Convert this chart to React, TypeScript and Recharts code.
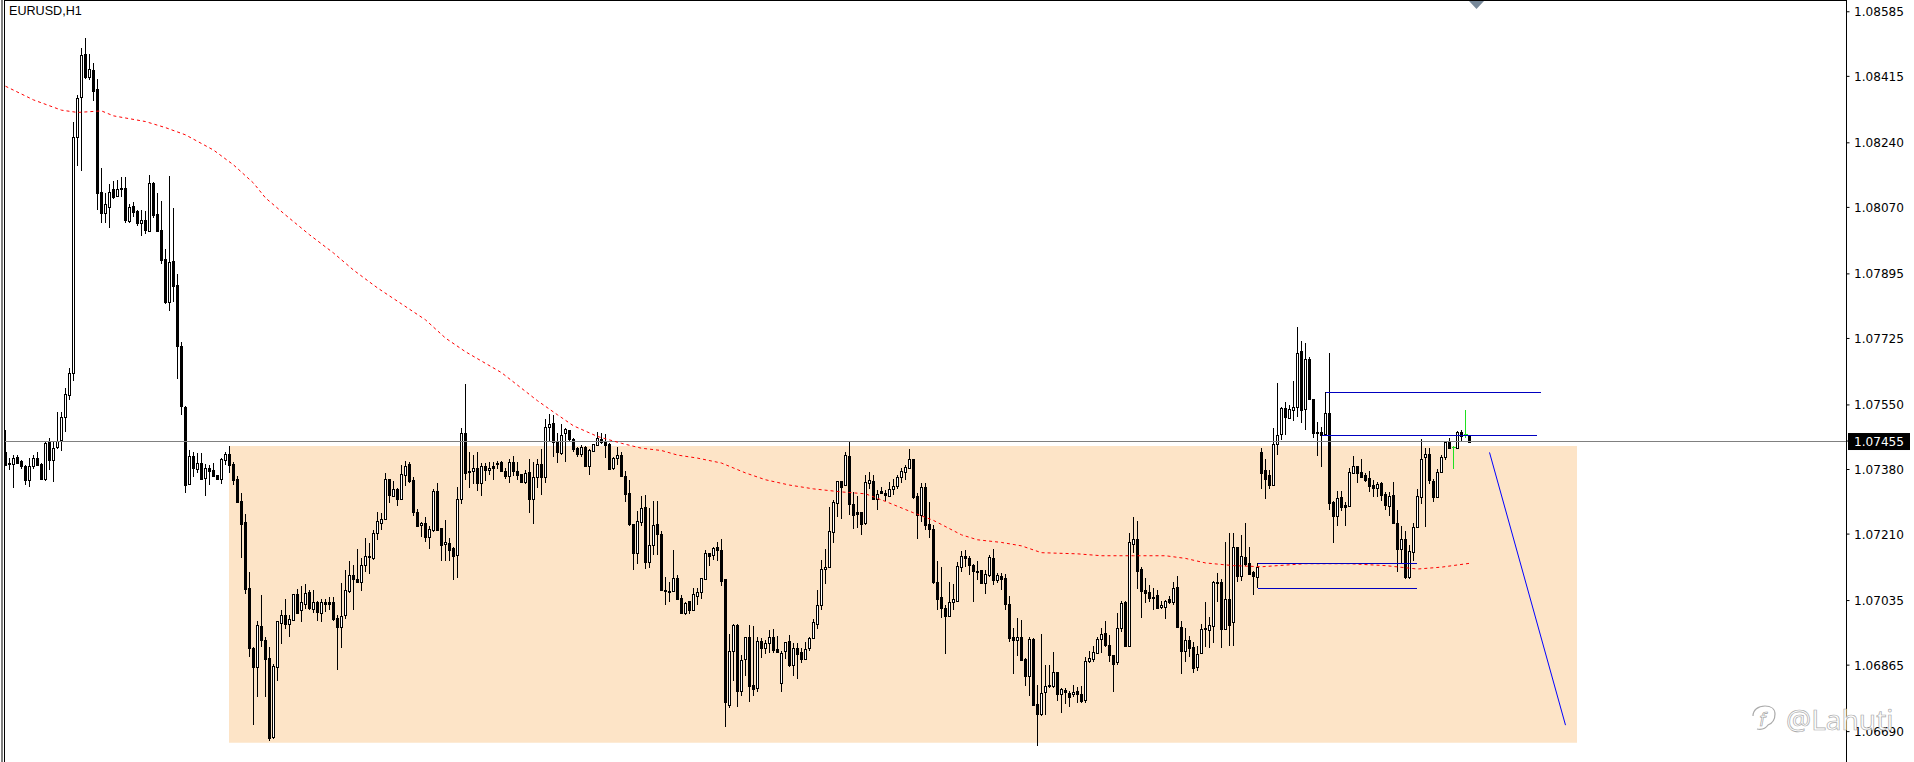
// App.tsx - EURUSD H1 candles with zone, levels and moving average
import React from "react";
import { ComposedChart, Bar, Line, XAxis, YAxis, ReferenceArea, ReferenceLine } from "recharts";

// all prices in points (1e-5)
const opens = [
  107425,107396,107394,107412,107402,107390,107352,107390,107410,107395,
  107354,107455,107404,107438,107457,107519,107577,107633,108256,108360,
  108473,108414,108431,108381,108110,108056,108072,108118,108100,108120,
  108120,108035,108073,108061,108030,108037,108009,108135,108052,108011,
  107934,107822,107928,107865,107705,107545,107341,107415,107382,107397,
  107357,107383,107378,107365,107354,107404,107421,107395,107354,107296,
  107241,107067,106909,106861,106967,106930,106883,106677,106861,106977,
  106996,106972,106984,107052,107009,107027,107057,107014,107031,107003,
  107031,107031,107031,106988,106966,106998,107060,107101,107091,107085,
  107128,107152,107148,107214,107240,107251,107354,107311,107330,107303,
  107366,107394,107352,107268,107233,107238,107203,107221,107323,107225,
  107183,107186,107174,107154,107302,107476,107376,107377,107383,107344,
  107388,107380,107389,107398,107400,107376,107364,107399,107376,107367,
  107347,107373,107302,107359,107394,107361,107493,107502,107452,107424,
  107475,107483,107460,107436,107422,107438,107388,107430,107445,107459,
  107455,107446,107384,107409,107418,107363,107317,107236,107159,107243,
  107280,107137,107180,107236,107209,107062,107061,107061,107094,107041,
  107001,107033,107010,107048,107057,107093,107159,107154,107175,107168,
  107091,106759,106901,106971,106798,106880,106938,106812,106806,106928,
  106911,106923,106938,106907,106819,106901,106928,106865,106909,106899,
  106881,106909,106937,106973,107022,107117,107123,107216,107291,107349,
  107338,107416,107289,107268,107268,107238,107345,107350,107303,107323,
  107319,107310,107330,107337,107359,107374,107385,107407,107309,107259,
  107333,107236,107223,107083,107044,107015,106995,107032,107034,107124,
  107152,107146,107129,107114,107115,107080,107101,107147,107088,107099,
  107094,107025,106938,106930,106938,106880,106837,106934,106763,106737,
  106795,106809,106811,106846,106790,106800,106791,106788,106796,106788,
  106772,106877,106882,106898,106933,106949,106917,106891,106872,106964,
  107031,106916,107185,107196,107117,107062,107058,107045,107049,107017,
  107019,107038,107031,107070,106966,106901,106930,106912,106859,106896,
  106959,106957,106969,107084,107083,106959,107038,106978,107175,107099,
  107149,107133,107110,107098,107425,107378,107365,107339,107446,107474,
  107541,107516,107537,107545,107691,107540,107672,107565,107480,107480,
  107473,107530,107294,107258,107307,107286,107284,107372,107388,107373,
  107365,107357,107339,107332,107345,107315,107285,107312,107238,107172,
  107196,107098,107164,107229,107308,107414,107422,107351,107307,107373,
  107412,107452,107438,107436,107478,107472,107469,
];

const highs = [
  107484,107410,107418,107418,107405,107392,107410,107418,107425,107397,
  107452,107462,107454,107531,107531,107594,107647,108294,108366,108489,
  108515,108473,108449,108407,108173,108107,108131,108139,108141,108149,
  108149,108078,108084,108063,108063,108061,108155,108137,108107,108086,
  107961,108153,108068,107895,107716,107547,107432,107425,107423,107423,
  107394,107392,107398,107365,107411,107427,107441,107401,107364,107317,
  107262,107109,106912,106981,107049,106938,106914,106867,106981,107010,
  107038,106997,107052,107065,107073,107079,107063,107062,107034,107040,
  107040,107045,107045,106997,107080,107116,107138,107129,107171,107147,
  107199,107186,107221,107268,107265,107370,107355,107350,107332,107392,
  107402,107401,107359,107275,107243,107254,107231,107329,107344,107225,
  107247,107199,107177,107333,107488,107605,107425,107418,107425,107398,
  107396,107401,107401,107402,107402,107384,107407,107416,107401,107367,
  107379,107407,107400,107407,107433,107513,107526,107523,107475,107500,
  107488,107484,107462,107438,107445,107442,107433,107446,107478,107475,
  107473,107449,107414,107439,107425,107376,107352,107236,107271,107310,
  107313,107278,107297,107296,107218,107097,107085,107168,107102,107049,
  107031,107033,107068,107069,107095,107167,107159,107176,107188,107196,
  107093,106947,106972,106973,106891,106940,106971,106968,106938,106936,
  106931,106958,106960,106942,106901,106927,106944,106923,106923,106911,
  106927,106938,106987,107063,107142,107171,107282,107300,107350,107350,
  107426,107455,107322,107309,107268,107366,107373,107365,107326,107333,
  107326,107346,107354,107365,107383,107392,107434,107408,107319,107344,
  107345,107295,107234,107138,107124,107023,107084,107079,107136,107166,
  107168,107153,107131,107139,107116,107116,107156,107170,107107,107107,
  107105,107047,106962,106988,106984,106883,106938,106937,106813,106947,
  106866,106866,106899,106846,106804,106804,106798,106813,106807,106811,
  106887,106903,106916,106938,106962,106981,106944,106892,107002,107035,
  107033,107212,107254,107245,107123,107094,107075,107067,107063,107033,
  107037,107047,107083,107100,106982,106963,106942,106927,106915,106973,
  107032,106993,107086,107107,107093,107188,107212,107212,107177,107207,
  107238,107175,107114,107133,107436,107407,107379,107488,107607,107544,
  107557,107550,107613,107754,107717,107712,107675,107565,107506,107493,
  107583,107686,107297,107324,107324,107295,107383,107415,107390,107407,
  107370,107376,107352,107348,107347,107322,107322,107348,107273,107231,
  107219,107181,107238,107328,107459,107436,107436,107356,107382,107418,
  107455,107462,107442,107481,107484,107536,107471,
];

const lows = [
  107390,107379,107332,107395,107382,107338,107335,107382,107390,107353,
  107351,107379,107346,107434,107430,107479,107563,107612,108179,108167,
  108407,108405,108351,108063,108028,108030,108017,108091,108097,108097,
  108030,108028,108046,108021,107996,107999,108009,108041,108009,107921,
  107816,107796,107822,107619,107524,107319,107341,107360,107372,107353,
  107311,107340,107360,107353,107342,107392,107372,107339,107291,107147,
  107051,106887,106708,106782,106914,106782,106666,106670,106824,106921,
  106959,106938,106980,107000,106979,107013,107009,107002,106982,106979,
  107005,107010,106982,106853,106910,106987,107056,107010,107080,107061,
  107110,107105,107142,107194,107221,107247,107293,107310,107284,107302,
  107337,107345,107258,107231,107202,107190,107172,107216,107219,107139,
  107140,107140,107090,107095,107289,107352,107331,107341,107323,107310,
  107350,107366,107352,107381,107375,107356,107344,107363,107352,107344,
  107342,107266,107237,107332,107313,107344,107453,107414,107398,107418,
  107401,107453,107427,107414,107414,107387,107366,107427,107444,107447,
  107409,107379,107379,107392,107359,107295,107231,107116,107131,107231,
  107118,107122,107155,107155,107060,107024,107030,107059,107037,107002,
  106998,107000,107009,107023,107039,107092,107127,107142,107139,107074,
  106701,106751,106823,106756,106784,106837,106768,106784,106795,106885,
  106895,106896,106896,106896,106793,106882,106861,106837,106828,106870,
  106879,106901,106936,106961,107010,107079,107122,107186,107256,107250,
  107337,107260,107223,107225,107208,107234,107330,107302,107273,107316,
  107297,107309,107313,107330,107345,107352,107383,107302,107197,107243,
  107221,107201,107079,107010,106990,106895,106994,107010,107031,107110,
  107124,107101,107031,107089,107079,107052,107098,107076,107082,107063,
  107011,106927,106842,106889,106877,106810,106784,106760,106651,106731,
  106734,106804,106804,106771,106740,106763,106756,106780,106766,106766,
  106766,106870,106874,106896,106896,106914,106872,106795,106866,106953,
  106915,106915,107159,107065,106989,107028,107031,107009,107014,107014,
  106987,107026,107023,106964,106842,106873,106887,106845,106850,106894,
  106914,106909,106924,107032,106909,106957,106916,106916,107085,107086,
  107126,107102,107050,107067,107329,107302,107330,107337,107419,107457,
  107471,107514,107507,107519,107503,107484,107563,107464,107415,107387,
  107473,107273,107187,107231,107272,107231,107282,107372,107345,107359,
  107348,107320,107308,107308,107297,107273,107258,107240,107111,107133,
  107093,107091,107139,107229,107289,107229,107343,107295,107306,107372,
  107405,107436,107381,107435,107456,107464,107453,
];

const closes = [
  107392,107394,107410,107398,107390,107352,107389,107410,107393,107355,
  107449,107404,107436,107456,107518,107578,107633,108256,108357,108470,
  108412,108434,108377,108109,108056,108078,108110,108098,108118,108118,
  108037,108070,108059,108030,108037,108011,108134,108050,108009,107932,
  107821,107926,107863,107706,107546,107340,107415,107385,107397,107355,
  107383,107375,107363,107354,107407,107421,107393,107353,107295,107237,
  107066,106909,106861,106970,106930,106882,106674,106863,106981,106996,
  106972,106986,107052,107003,107031,107054,107016,107031,107006,107031,
  107027,107026,106987,106966,106995,107062,107101,107093,107084,107128,
  107152,107151,107212,107244,107249,107354,107314,107330,107302,107368,
  107389,107350,107269,107232,107238,107203,107223,107323,107221,107180,
  107188,107169,107153,107302,107475,107372,107374,107383,107344,107388,
  107379,107385,107385,107396,107377,107363,107399,107376,107366,107347,
  107370,107303,107359,107394,107360,107491,107499,107452,107425,107472,
  107486,107460,107434,107422,107438,107388,107431,107446,107462,107452,
  107445,107381,107409,107417,107363,107316,107237,107159,107244,107278,
  107137,107180,107233,107209,107062,107060,107059,107094,107039,107003,
  107028,107010,107052,107057,107094,107159,107153,107174,107168,107087,
  106769,106902,106971,106797,106878,106938,106811,106803,106928,106911,
  106923,106938,106905,106900,106896,106927,106865,106909,106895,106881,
  106907,106936,106978,107023,107117,107124,107217,107294,107349,107334,
  107417,107290,107261,107264,107237,107346,107352,107303,107315,107319,
  107313,107330,107336,107359,107376,107387,107407,107308,107259,107333,
  107234,107223,107084,107040,107015,106995,107031,107038,107125,107152,
  107148,107129,107113,107112,107081,107104,107150,107089,107101,107093,
  107027,106937,106930,106938,106879,106837,106934,106761,106737,106791,
  106809,106813,106846,106790,106802,106793,106782,106794,106788,106771,
  106875,106883,106899,106933,106946,106918,106892,106869,106962,107028,
  106916,107188,107196,107114,107061,107056,107043,107043,107016,107023,
  107033,107030,107067,106966,106901,106930,106911,106857,106893,106959,
  106962,106970,107084,107082,106960,107038,106971,107175,107100,107151,
  107131,107105,107100,107124,107372,107356,107339,107446,107472,107541,
  107517,107538,107545,107688,107537,107672,107565,107476,107477,107471,
  107530,107293,107258,107304,107282,107282,107374,107388,107372,107361,
  107352,107337,107332,107341,107313,107286,107310,107240,107172,107196,
  107097,107165,107229,107309,107407,107422,107352,107308,107374,107412,
  107452,107437,107439,107478,107469,107473,107453,
];

// bars the original marks in green
const greenBars = [362, 365];

// moving average, read at these bar numbers
const maBars = [
  0,7,14,18,24,27,35,40,45,52,57,62,65,70,76,82,87,93,99,105,110,115,124,133,138,142,148,154,159,164,168,173,
  179,185,190,196,202,209,215,220,227,232,239,243,249,254,259,268,274,282,290,295,300,307,314,325,336,345,353,359,366,
];
const maPrices = [
  108389,108353,108326,108320,108324,108311,108296,108280,108261,108221,108182,108134,108095,108050,107998,107950,
  107905,107858,107816,107774,107726,107690,107635,107561,107524,107495,107467,107449,107436,107430,107418,107410,
  107397,107371,107353,107339,107329,107321,107316,107296,107266,107246,107208,107195,107188,107179,107161,107158,
  107153,107153,107153,107146,107134,107127,107124,107132,107132,107127,107118,107123,107133,
];

const axisTicks = [
  1.08585, 1.08415, 1.0824, 1.0807, 1.07895, 1.07725, 1.0755, 1.07455, 1.0738, 1.0721, 1.07035, 1.06865, 1.0669,
];
const lastPrice = 1.07455;

// zone: bar from, bar to, price top, price bottom
const zone = [55.875, 392.875, 1.07442, 1.06661];

// drawn levels: bar, price, bar, price
const levels = [
  [330, 1.07583, 383.8, 1.07583],
  [329, 1.0747, 382.8, 1.0747],
  [313, 1.07133, 352.8, 1.07133],
  [313, 1.07067, 352.8, 1.07067],
];
const arrowLine = [371, 1.07425, 390, 1.06707];

const BLUE = "#0000c0";
const PT = 100000;

const rows = opens.map((o, i) => ({
  i,
  open: o / PT,
  high: highs[i] / PT,
  low: lows[i] / PT,
  close: closes[i] / PT,
  ma: maBars.includes(i) ? maPrices[maBars.indexOf(i)] / PT : null,
}));

const Candle = (props: any) => {
  const { x, y, width, height, payload } = props;
  const cx = Math.floor(x + width / 2) + 0.5;
  const h = Math.abs(height);
  const range = payload.high - payload.low || 1e-5;
  const yOf = (p: number) => y + ((payload.high - p) / range) * h;
  const top = Math.round(yOf(Math.max(payload.open, payload.close)));
  const bot = Math.round(yOf(Math.min(payload.open, payload.close)));
  const up = payload.close >= payload.open;
  if (greenBars.includes(payload.i)) {
    return (
      <g shapeRendering="crispEdges" stroke="#1fe01f">
        <line x1={cx} x2={cx} y1={y} y2={y + h} />
        <line x1={cx - 2} x2={cx + 2} y1={top + 0.5} y2={top + 0.5} />
      </g>
    );
  }
  return (
    <g shapeRendering="crispEdges">
      <line x1={cx} x2={cx} y1={y} y2={y + h} stroke="#000" />
      <rect
        x={cx - 1}
        y={top + 0.5}
        width={2}
        height={Math.max(bot - top, 1)}
        fill={up ? "#fff" : "#000"}
        stroke="#000"
      />
    </g>
  );
};

const PriceTick = (props: any) => {
  const { x, y, payload } = props;
  const isLast = payload.value === lastPrice;
  return (
    <g>
      {isLast && <rect x={x - 1.5} y={y - 8} width={62} height={17} fill="#000" />}
      <text
        x={x + 4.5}
        y={y + 4.5}
        fontFamily="DejaVu Sans"
        fontSize={12.1}
        fill={isLast ? "#fff" : "#000"}
      >
        {payload.value.toFixed(5)}
      </text>
    </g>
  );
};

const App = () => {
  return (
    <div style={{ position: "absolute", left: 0, top: 0, width: 1914, height: 762, background: "#fff", overflow: "hidden" }}>
      <ComposedChart
        width={1914}
        height={762}
        data={rows}
        margin={{ top: 0, right: 0, bottom: 0, left: 3.5 }}
      >
        <XAxis dataKey="i" type="number" domain={[-0.5, 460.25]} hide allowDataOverflow />
        <YAxis
          orientation="right"
          width={67.5}
          domain={[1.0661, 1.08616]}
          ticks={axisTicks}
          interval={0}
          tick={<PriceTick />}
          tickSize={3}
          tickMargin={0}
          stroke="#000"
          allowDataOverflow
        />
        <ReferenceArea x1={zone[0]} x2={zone[1]} y1={zone[2]} y2={zone[3]} fill="#fde4c7" fillOpacity={1} stroke="none" />
        <ReferenceLine y={lastPrice} stroke="#808080" shapeRendering="crispEdges" />
        <Bar
          dataKey={(d: any) => [d.low, d.high]}
          barSize={3}
          shape={<Candle />}
          isAnimationActive={false}
        />
        <Line
          dataKey="ma"
          stroke="#ff0000"
          strokeWidth={1}
          strokeDasharray="3 3"
          dot={false}
          connectNulls
          isAnimationActive={false}
        />
        {levels.map((s, k) => (
          <ReferenceLine
            key={k}
            segment={[{ x: s[0], y: s[1] }, { x: s[2], y: s[3] }]}
            stroke={BLUE}
            shapeRendering="crispEdges"
          />
        ))}
        <ReferenceLine
          segment={[{ x: arrowLine[0], y: arrowLine[1] }, { x: arrowLine[2], y: arrowLine[3] }]}
          stroke="#0000ff"
        />
      </ComposedChart>

      {/* chart frame and the text on top of it */}
      <div style={{ position: "absolute", left: 1, top: 0, width: 2, height: 762, background: "#808080" }} />
      <div style={{ position: "absolute", left: 4, top: 0, width: 1842, height: 762, borderTop: "1px solid #000", borderLeft: "1px solid #000", boxSizing: "border-box" }} />
      <div style={{ position: "absolute", left: 9, top: 4, fontFamily: "Liberation Sans", fontSize: 12.6, color: "#000" }}>EURUSD,H1</div>
      <svg width={1914} height={762} style={{ position: "absolute", left: 0, top: 0 }}>
        <polygon points="1469,1 1484,1 1476.5,9" fill="#778899" />
        <path
          d="M1757 729c5 1 9-1 11-4 5-2 7-7 7-11 0-5-4-8-10-8-7 0-12 4-12 10"
          fill="none"
          stroke="#aaa"
          strokeWidth={1.2}
        />
        <text x={1759} y={726} fontFamily="DejaVu Sans" fontSize={18} fontStyle="italic" fill="#fff" stroke="#999" strokeWidth={0.6}>f</text>
        <text x={1786} y={730} fontFamily="Noto Sans" fontSize={28} fill="#fff" stroke="#aaa" strokeWidth={0.7}>@Lahuti</text>
      </svg>
    </div>
  );
};

export default App;
